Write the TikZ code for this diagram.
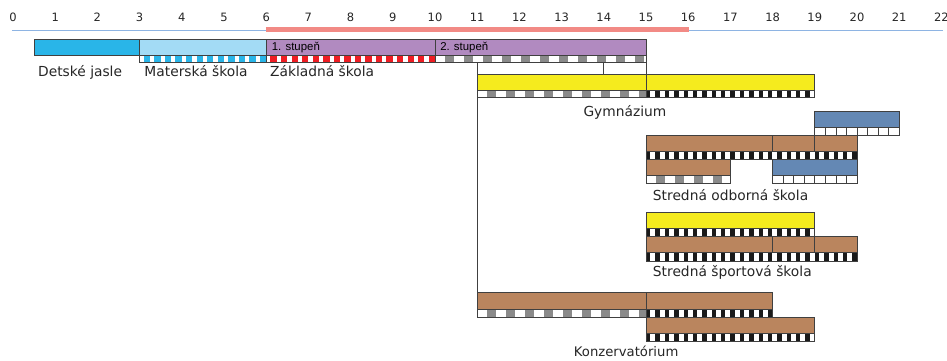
\documentclass[tikz,border=0pt]{standalone}
\usepackage{fontspec}
\setmainfont{DejaVu Sans}
\newfontfamily\arialf{Liberation Sans}
\definecolor{edgec}{HTML}{404040}
\definecolor{jasle}{HTML}{29B5E8}
\definecolor{mat}{HTML}{A3DBF5}
\definecolor{purp}{HTML}{B18AC0}
\definecolor{yel}{HTML}{F5EB1E}
\definecolor{brn}{HTML}{BA855E}
\definecolor{steel}{HTML}{6488B4}
\definecolor{stblue}{HTML}{29B5E8}
\definecolor{stred}{HTML}{EE1D23}
\definecolor{stgray}{HTML}{8A8A8A}
\definecolor{stblack}{HTML}{1A1A1A}
\definecolor{pinkc}{HTML}{F28A85}
\definecolor{axisc}{HTML}{8EB4E3}
\tikzset{
  edge/.style={draw=edgec,line width=0.8pt},
  lbl/.style={inner sep=0,anchor=base west,font=\fontsize{13.8}{16}\selectfont,text=black!85},
  clbl/.style={inner sep=0,anchor=base,font=\fontsize{13.8}{16}\selectfont,text=black!85},
  num/.style={inner sep=0,anchor=base,font=\fontsize{11.5}{13}\selectfont,text=black!85},
  stup/.style={inner sep=0,anchor=base west,font=\arialf\fontsize{11.4}{13}\selectfont}
}
% x1 x2 ytop ybot color period offset width
\newcommand\patstrip[8]{%
  \begin{scope}
    \clip (#1,#3) rectangle (#2,#4);
    \fill[white] (#1,#3) rectangle (#2,#4);
    \pgfmathtruncatemacro\nn{(#2-#1)/#6+1}
    \foreach \i in {0,...,\nn}{\fill[#5] ({#1+\i*#6+#7},#3) rectangle ({#1+\i*#6+#7+#8},#4);}
  \end{scope}
  \draw[edge] (#1,#3) rectangle (#2,#4);}
% x1 x2 ytop ybot
\newcommand\cellstrip[4]{%
  \fill[white] (#1,#3) rectangle (#2,#4);
  \pgfmathtruncatemacro\nn{(#2-#1)/0.25}
  \foreach \i in {1,...,\nn}{\draw[edgec,line width=0.7pt] ({#1+\i*0.25},#3) -- ({#1+\i*0.25},#4);}
  \draw[edge] (#1,#3) rectangle (#2,#4);}
\newcommand\graystrip[4]{\patstrip{#1}{#2}{#3}{#4}{stgray}{0.45}{0.237}{0.213}}
\newcommand\blackstrip[4]{\patstrip{#1}{#2}{#3}{#4}{stblack}{0.2222}{0}{0.105}}
\begin{document}
\begin{tikzpicture}[x=42.2pt,y=-1pt]
\path[use as bounding box] (-0.30806,0) rectangle (22.1327,360);
% scale
\foreach \n in {0,...,22}{\node[num] (t\n) at (\n,21) {\n};}
\draw[axisc,line width=0.9pt] (-0.024,30) -- (22.03,30);
\draw[pinkc,line width=5pt] (5.99,29.8) -- (16.01,29.8);
% connector lines
\coordinate (gl) at (11,62.7);
\coordinate (gb) at (11,292.7);
\draw[edge] (gl) -- (gb);
\draw[edge] (14,62.7) -- (14,74.5);
\draw[edge] (15,62.7) -- (15,74.5);
% row A
\draw[edge,fill=jasle] (0.5,39) rectangle (3,55.5);
\draw[edge,fill=mat] (3,39) rectangle (6,55.5);
\patstrip{3}{6}{55.5}{62.7}{stblue}{0.25}{0.1}{0.15}
\draw[edge,fill=purp] (6,39) rectangle (10,55.5);
\patstrip{6}{10}{55.5}{62.7}{stred}{0.25}{0.1}{0.15}
\draw[edge,fill=purp] (10,39) rectangle (15,55.5);
\graystrip{10}{15}{55.5}{62.7}
\node[stup] (s1) at (6.13,50.8) {1. stupeň};
\node[stup] (s2) at (10.12,50.8) {2. stupeň};
\node[lbl] (dj) at (0.592,76) {Detské jasle};
\node[lbl] (ms) at (3.111,76) {Materská škola};
\node[lbl] (zs) at (6.09,76) {Základná škola};
% Gymnazium
\draw[edge,fill=yel] (11,74.5) rectangle (19,90);
\draw[edge] (15,74.5) -- (15,90);
\graystrip{11}{15}{90}{97.5}
\blackstrip{15}{19}{90}{97.5}
\node[clbl] (gym) at (14.5,116.5) {Gymnázium};
% SOS
\draw[edge,fill=steel] (19,111.7) rectangle (21,127);
\cellstrip{19}{21}{127}{135}
\draw[edge,fill=brn] (15,135) rectangle (20,151);
\draw[edge] (18,135) -- (18,151);
\draw[edge] (19,135) -- (19,151);
\blackstrip{15}{20}{151}{159}
\draw[edge,fill=brn] (15,159) rectangle (17,175.5);
\graystrip{15}{17}{175.5}{183}
\draw[edge,fill=steel] (18,159) rectangle (20,175.5);
\cellstrip{18}{20}{175.5}{183}
\node[lbl] (sos) at (15.16,200.7) {Stredná odborná škola};
% SSS
\draw[edge,fill=yel] (15,212.7) rectangle (19,228);
\blackstrip{15}{19}{228}{236.5}
\draw[edge,fill=brn] (15,236.5) rectangle (20,252.7);
\draw[edge] (18,236.5) -- (18,252.7);
\draw[edge] (19,236.5) -- (19,252.7);
\blackstrip{15}{20}{252.7}{261}
\node[lbl] (sss) at (15.16,276) {Stredná športová škola};
% Konzervatorium
\draw[edge,fill=brn] (11,292.7) rectangle (18,309);
\draw[edge] (15,292.7) -- (15,309);
\graystrip{11}{15}{309}{317}
\blackstrip{15}{18}{309}{317}
\draw[edge,fill=brn] (15,317) rectangle (19,333);
\blackstrip{15}{19}{333}{341.7}
\node[clbl,font=\fontsize{13.2}{16}\selectfont] (kon) at (14.53,356.5) {Konzervatórium};
\end{tikzpicture}
\end{document}
